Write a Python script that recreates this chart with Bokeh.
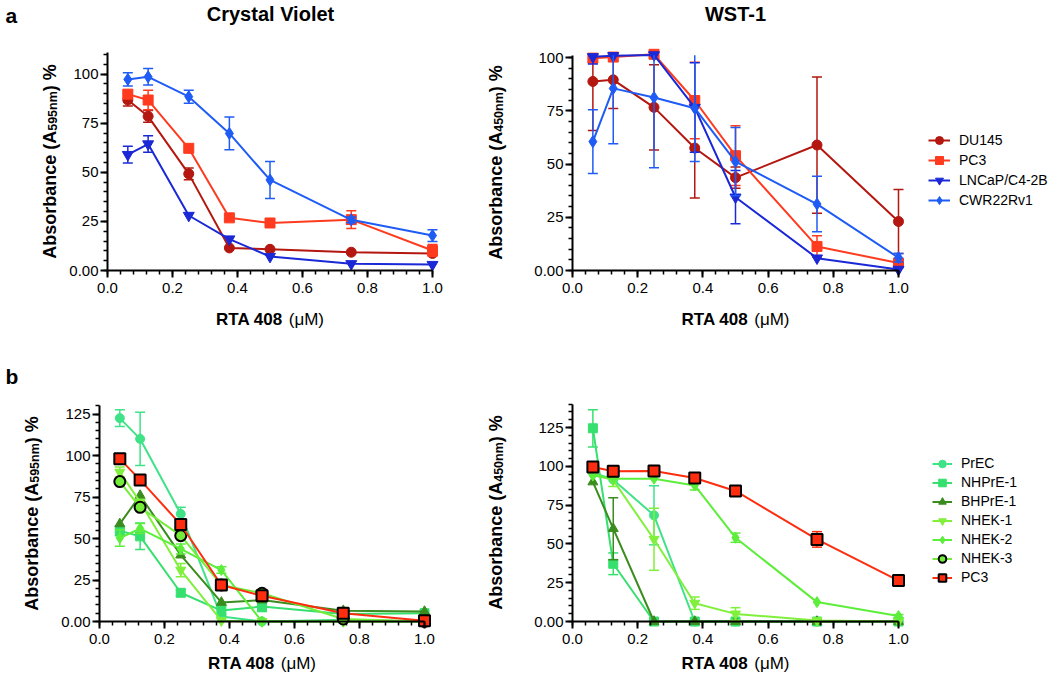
from math import pi
from bokeh.plotting import figure
from bokeh.layouts import column, row
from bokeh.models import (Range1d, SingleIntervalTicker, PrintfTickFormatter, Label,
                          Legend, LegendItem)
from bokeh.embed import file_html
from bokeh.resources import INLINE

FONT = "Liberation Sans"
NAN = float("nan")
SHIFT = 6  # compensation for label baseline placement

# ---------------- data ----------------
conc = [0.0625, 0.125, 0.25, 0.375, 0.5, 0.75, 1.0]

# panel a, Crystal Violet
cv_du145 = [86.8, 78.5, 49.2, 11.5, 10.8, 9.3, 8.7]
cv_du145_err = [3, 3, 3, 0, 0, 0, 0]
cv_pc3 = [89.8, 86.8, 62.2, 26.8, 24.2, 25.9, 10.2]
cv_pc3_err = [2, 5, 0, 0, 0, 4.5, 3]
cv_lncap = [59, 64.4, 28, 16, 7.1, 3.4, 3]
cv_lncap_err = [4.3, 4.2, 0, 0, 0, 0, 0]
cv_cwr = [97.3, 98.6, 88.5, 69.8, 46.1, 25.8, 17.8]
cv_cwr_err = [3.4, 4.2, 3.3, 8.3, 9.4, 1.5, 3]

# panel a, WST-1
wst_du145 = [88.75, 89.5, 76.6, 57.5, 43.6, 58.9, 23]
wst_du145_err = [23, 13.5, 20, 23.5, 5, 32, 15]
wst_pc3 = [99.7, 100.2, 101.5, 79.8, 53.9, 11.3, 3.5]
wst_pc3_err = [2, 2, 0, 18, 14, 5, 1.5]
wst_lncap = [100.3, 100.8, 101.2, 76.5, 34.4, 5.8, 0.5]
wst_lncap_err = [3.3, 0, 0, 21, 12.5, 0, 0]
wst_cwr = [60.5, 85.5, 81.2, 76.2, 51.1, 31.2, 6]
wst_cwr_err = [15, 26, 33, 25, 16, 13, 2]

# panel b, Crystal Violet
cvb_prec = [122.5, 110, 64.8, 3, 0, 1, 0]
cvb_prec_err = [5, 16, 4, 0, 0, 0, 0]
cvb_nhpre = [54.7, 51.3, 17.3, 6.6, 9, 4.5, 5]
cvb_nhpre_err = [3, 8, 2, 3, 3, 0, 0]
cvb_bhpre = [58.8, 75.9, 40, 11.5, 12.9, 6.5, 6]
cvb_bhpre_err = [0, 0, 0, 0, 0, 0, 0]
cvb_nhek1 = [90, 72, 31, 0.5, 0, 0, 0]
cvb_nhek1_err = [3, 0, 4, 0, 0, 0, 0]
cvb_nhek2 = [50.3, 56, 43.7, 31, 0, 0, 0]
cvb_nhek2_err = [5, 3, 3, 2, 0, 0, 0]
cvb_nhek3 = [84.3, 68.8, 51.7, 22, 17, 1.5, 0]
cvb_nhek3_err = [0, 0, 0, 0, 0, 0, 0]
cvb_pc3 = [98, 85.3, 58.4, 22, 15.5, 5, 0.5]
cvb_pc3_err = [0, 0, 0, 3, 2, 0, 0]

# panel b, WST-1 (NHEK-3 not measured: no values)
wstb_prec = [96, 91.4, 68.4, 0, 0, 0, 0]
wstb_prec_err = [0, 0, 19, 0, 0, 0, 0]
wstb_nhpre = [124.5, 37.2, 0, 0, 0, 0, 0]
wstb_nhpre_err = [12, 7, 0, 0, 0, 0, 0]
wstb_bhpre = [89.9, 59.8, 0, 0, 0, 0, 0]
wstb_bhpre_err = [0, 20, 0, 0, 0, 0, 0]
wstb_nhek1 = [95, 91, 53, 11.8, 4.9, 0.6, 0]
wstb_nhek1_err = [0, 4, 20, 4, 4, 0, 0]
wstb_nhek2 = [94, 92, 92, 87.7, 54, 12.5, 3.5]
wstb_nhek2_err = [0, 0, 0, 3, 3, 0, 1]
wstb_nhek3 = [NAN, NAN, NAN, NAN, NAN, NAN, NAN]
wstb_nhek3_err = [0, 0, 0, 0, 0, 0, 0]
wstb_pc3 = [99.6, 96.8, 97, 92.5, 84.1, 52.9, 26.4]
wstb_pc3_err = [0, 0, 0, 0, 3, 5, 2]

labels_a = ["DU145", "PC3", "LNCaP/C4-2B", "CWR22Rv1"]
labels_b = ["PrEC", "NHPrE-1", "BHPrE-1", "NHEK-1", "NHEK-2", "NHEK-3", "PC3"]

# styles
sty_a = [
    dict(color="#b3170f", marker="circle", size=10, edge=None),
    dict(color="#ff3b1f", marker="square", size=10, edge=None),
    dict(color="#1a28d6", marker="inverted_triangle", size=11, edge=None),
    dict(color="#1f5cf5", marker="diamond", size=12, edge=None),
]
sty_b = [
    dict(color="#3fe287", marker="circle", size=9, edge=None),
    dict(color="#36e06e", marker="square", size=9, edge=None),
    dict(color="#3a8c1e", marker="triangle", size=10, edge=None),
    dict(color="#80f03c", marker="inverted_triangle", size=10, edge=None),
    dict(color="#5cee3a", marker="diamond", size=11, edge=None),
    dict(color="#74ec3a", marker="circle", size=11, edge="black"),
    dict(color="#ff2d0f", marker="square", size=11, edge="black"),
]


class Panel:
    def __init__(self, cx0, cx1, cy0, cy1, ox, oy, kx, ky, ytop):
        self.cx0, self.cy1 = cx0, cy1
        self.ox, self.oy, self.kx = ox, oy, kx
        self.ytop = ytop
        w, h = cx1 - cx0, cy1 - cy0
        p = figure(frame_width=w, frame_height=h,
                   x_range=Range1d((cx0 - ox) / kx, (cx1 - ox) / kx),
                   y_range=Range1d((oy - cy1) / ky, (oy - cy0) / ky),
                   min_border=0, toolbar_location=None, output_backend="svg",
                   title=None)
        p.grid.visible = False
        p.outline_line_color = None
        p.xaxis.fixed_location = 0
        p.yaxis.fixed_location = 0
        p.xaxis.bounds = (0, 1.0)
        p.yaxis.bounds = (0, ytop)
        p.xaxis.ticker = SingleIntervalTicker(interval=0.2, num_minor_ticks=5)
        p.xaxis.formatter = PrintfTickFormatter(format="%.1f")
        p.yaxis.ticker = SingleIntervalTicker(interval=25, num_minor_ticks=5)
        p.yaxis.major_label_overrides = {0: "0.00"}
        for ax in (p.xaxis[0], p.yaxis[0]):
            ax.axis_line_width = 2
            ax.axis_line_color = "black"
            ax.major_tick_line_width = 2
            ax.minor_tick_line_width = 1.5
            ax.major_tick_in = 0
            ax.major_tick_out = 7
            ax.minor_tick_in = 0
            ax.minor_tick_out = 4
            ax.major_label_text_font = FONT
            ax.major_label_text_font_size = "15px"
            ax.major_label_text_color = "black"
        p.xaxis.major_label_standoff = 5
        p.yaxis.major_label_standoff = 2
        self.p = p

    def txt(self, px, py, text, size, bold=True, angle=0, align="left"):
        if angle:
            px -= SHIFT
        else:
            py -= SHIFT
        self.p.add_layout(Label(x=px - self.cx0, y=self.cy1 - py, x_units="screen",
                                y_units="screen", text=text, text_font=FONT,
                                text_font_size=f"{size}px",
                                text_font_style="bold" if bold else "normal",
                                angle=angle, text_align=align,
                                text_baseline="alphabetic", text_color="black"))

    def ylabel(self, px, pyc, sub, size=18, sub_size=12.5):
        w1 = 7.112 * size
        w2 = 3.168 * sub_size
        w3 = 1.5 * size
        y0 = pyc + (w1 + w2 + w3) / 2
        self.txt(px, y0, "Absorbance (A", size, angle=pi / 2)
        self.txt(px + 3, y0 - w1, sub, sub_size, angle=pi / 2)
        self.txt(px, y0 - w1 - w2, ") %", size, angle=pi / 2)

    def xlabel(self, py, size=17):
        w1 = 4.279 * size
        w2 = 2.075 * size
        x0 = self.ox + self.kx * 0.5 - (w1 + w2) / 2
        self.txt(x0, py, "RTA 408", size)
        self.txt(x0 + w1, py, "(\u03bcM)", size, bold=False)

    def series(self, ys, errs, st):
        p = self.p
        c = st["color"]
        idx = [i for i, e in enumerate(errs) if e > 0]
        if idx:
            xs = [conc[i] for i in idx]
            lo = [ys[i] - errs[i] for i in idx]
            hi = [min(ys[i] + errs[i], self.ytop) for i in idx]
            p.segment(xs, lo, xs, hi, line_color=c, line_width=1.5)
            cx = xs + [conc[i] for i in idx if ys[i] + errs[i] <= self.ytop]
            cy = lo + [ys[i] + errs[i] for i in idx if ys[i] + errs[i] <= self.ytop]
            p.scatter(cx, cy, marker="dash", size=10, line_color=c, line_width=1.5)
        xs_all = conc[:len(ys)]
        lr = p.line(xs_all, ys, line_color=c, line_width=2)
        edge = st["edge"] or c
        sr = p.scatter(xs_all, ys, marker=st["marker"], size=st["size"], fill_color=c,
                       line_color=edge, line_width=2 if st["edge"] else 1)
        return [lr, sr]

    def legend(self, labels, rends, left, top, h, gw):
        items = [LegendItem(label=l, renderers=r) for l, r in zip(labels, rends)]
        n = len(labels)
        lg = Legend(items=items, location=(left - self.cx0, self.cy1 - (top + n * h)),
                    border_line_color=None, background_fill_alpha=0, padding=0,
                    margin=0, spacing=0, glyph_width=gw, glyph_height=h,
                    label_height=h, label_standoff=9, label_text_font=FONT,
                    label_text_font_size="14px", label_text_color="black")
        self.p.add_layout(lg)


# ---------------- panel a ----------------
A1 = Panel(0, 470, 0, 345, 107, 270, 325, 1.964, 111)
for ys, es, st in zip([cv_du145, cv_pc3, cv_lncap, cv_cwr],
                      [cv_du145_err, cv_pc3_err, cv_lncap_err, cv_cwr_err], sty_a):
    A1.series(ys, es, st)
A1.txt(270, 19, "Crystal Violet", 20, align="center")
A1.txt(5, 21, "a", 21)
A1.ylabel(55, 161, "595nm")
A1.xlabel(325)

A2 = Panel(470, 1050, 0, 345, 572, 270, 326, 2.13, 101)
rends_a = []
for ys, es, st in zip([wst_du145, wst_pc3, wst_lncap, wst_cwr],
                      [wst_du145_err, wst_pc3_err, wst_lncap_err, wst_cwr_err], sty_a):
    rends_a.append(A2.series(ys, es, st))
A2.txt(735, 19, "WST-1", 20, align="center")
A2.ylabel(501, 162, "450nm")
A2.xlabel(325)
A2.legend(labels_a, rends_a, 928, 130, 20, 22)

# ---------------- panel b ----------------
B1 = Panel(0, 470, 345, 676, 99, 621, 325, 1.66, 130)
for ys, es, st in zip([cvb_prec, cvb_nhpre, cvb_bhpre, cvb_nhek1, cvb_nhek2, cvb_nhek3, cvb_pc3],
                      [cvb_prec_err, cvb_nhpre_err, cvb_bhpre_err, cvb_nhek1_err,
                       cvb_nhek2_err, cvb_nhek3_err, cvb_pc3_err], sty_b):
    B1.series(ys, es, st)
B1.txt(5, 382, "b", 21)
B1.ylabel(37, 513, "595nm")
B1.xlabel(669)

B2 = Panel(470, 1050, 345, 676, 572, 621, 326, 1.552, 140)
rends_b = []
for ys, es, st in zip([wstb_prec, wstb_nhpre, wstb_bhpre, wstb_nhek1, wstb_nhek2, wstb_nhek3, wstb_pc3],
                      [wstb_prec_err, wstb_nhpre_err, wstb_bhpre_err, wstb_nhek1_err,
                       wstb_nhek2_err, wstb_nhek3_err, wstb_pc3_err], sty_b):
    rends_b.append(B2.series(ys, es, st))
B2.ylabel(501, 512, "450nm")
B2.xlabel(669)
B2.legend(labels_b, rends_b, 932, 453.5, 19, 20)

layout = column(row(A1.p, A2.p), row(B1.p, B2.p))
open("out.html", "w").write(file_html(layout, INLINE))
